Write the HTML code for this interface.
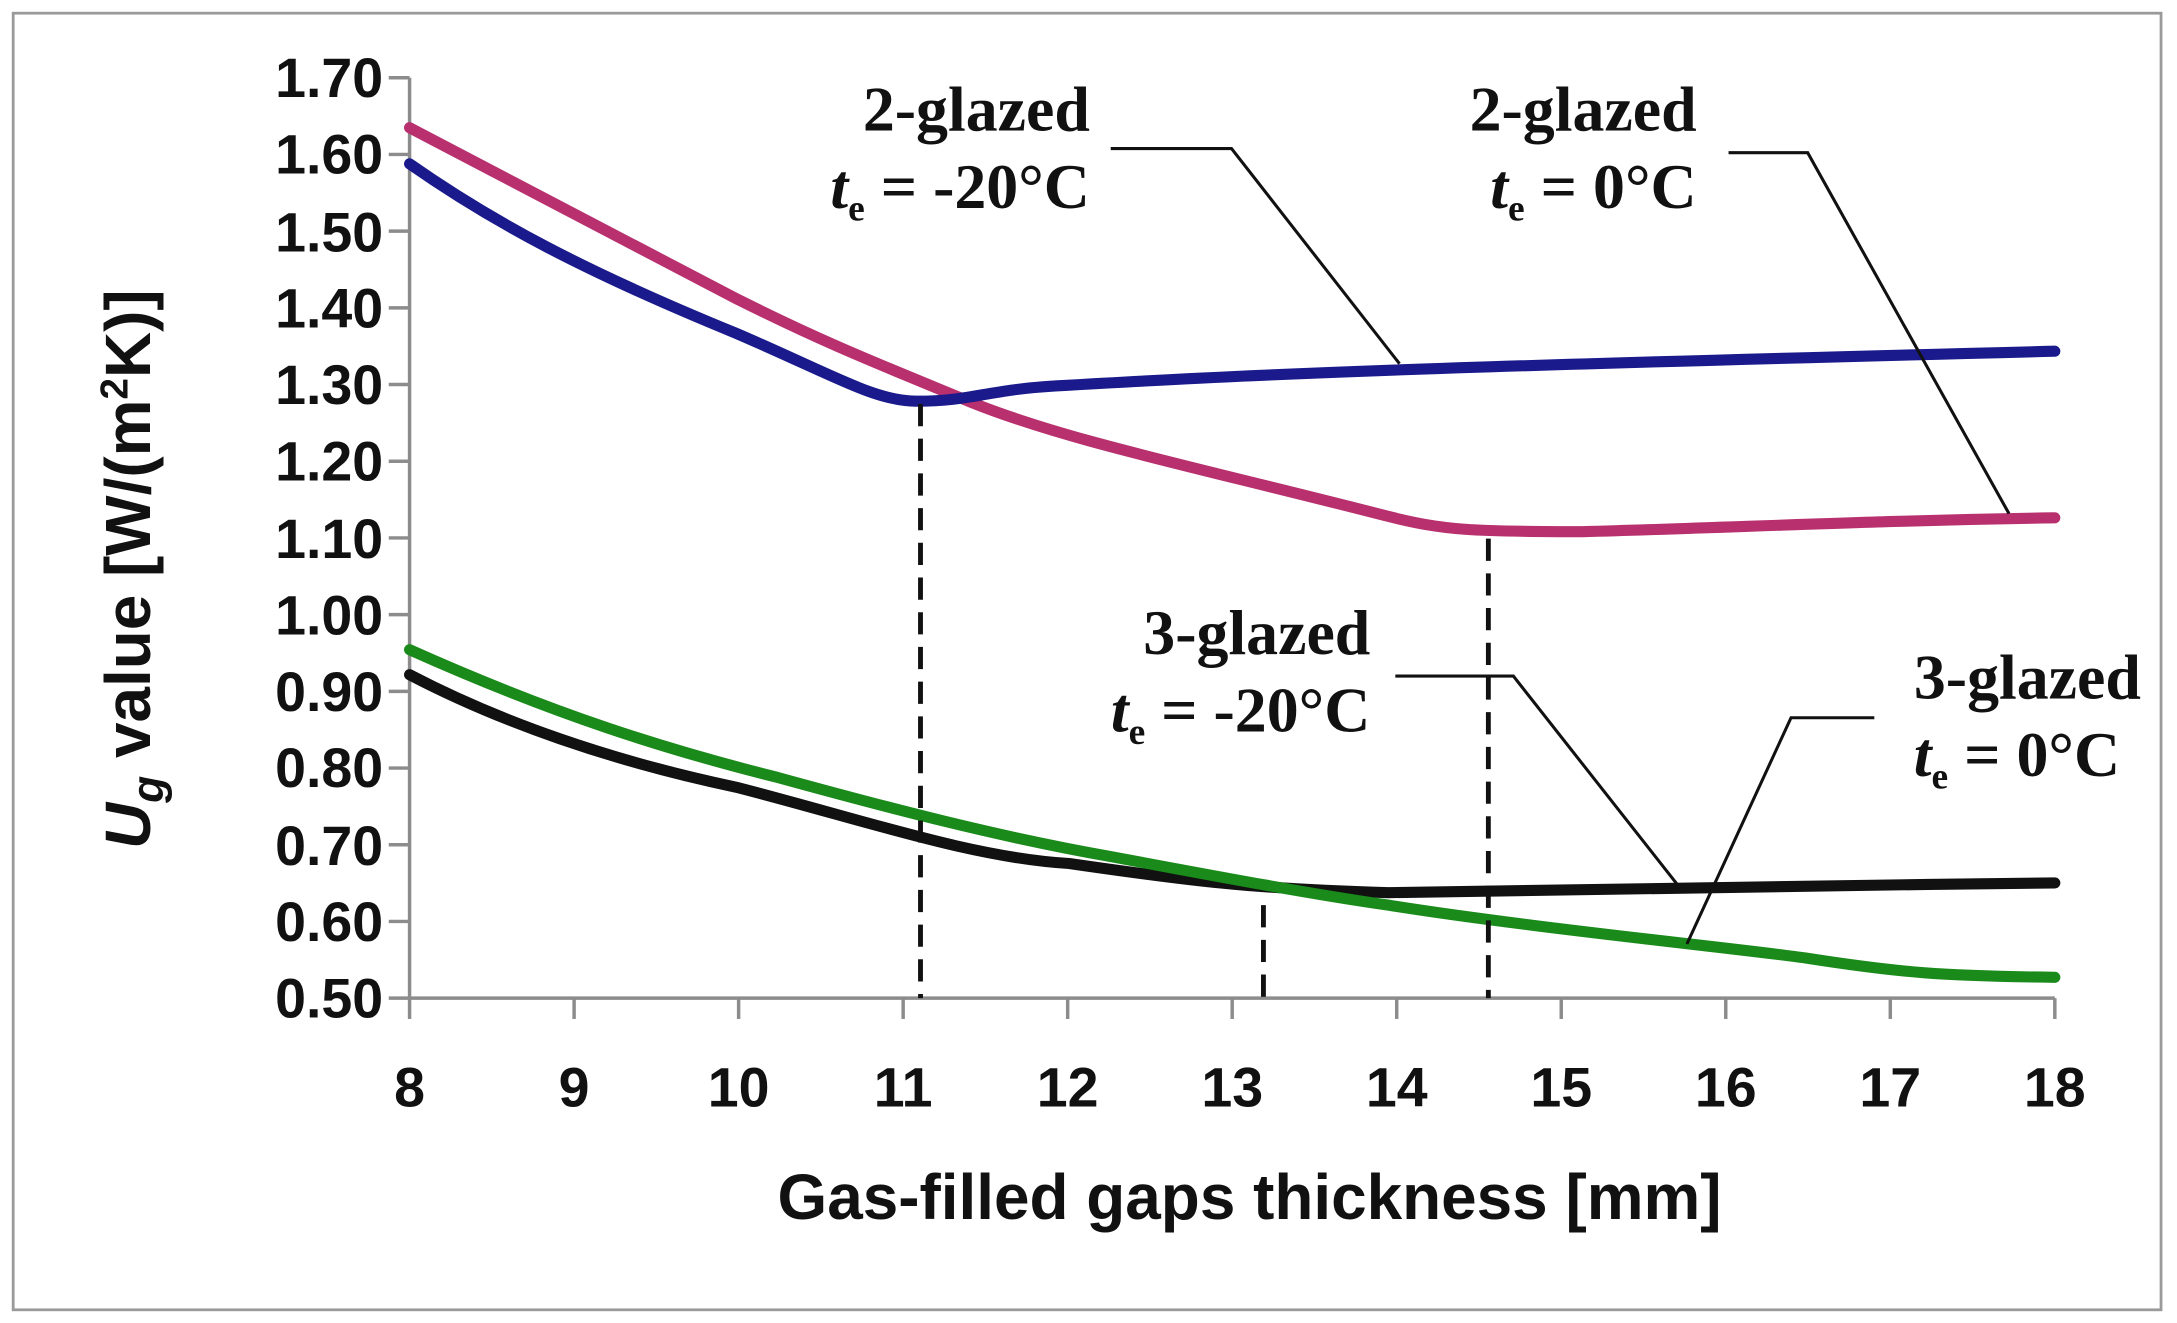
<!DOCTYPE html>
<html><head><style>html,body{margin:0;padding:0;background:#fff}svg{display:block}</style></head>
<body>
<svg width="2177" height="1323" viewBox="0 0 1568 953" preserveAspectRatio="none" xmlns="http://www.w3.org/2000/svg">
<rect x="0" y="0" width="1568" height="953" fill="#fff"/>
<rect x="9.5" y="9.5" width="1547" height="934" fill="none" stroke="#9a9a9a" stroke-width="2"/>
<g stroke="#8c8c8c" stroke-width="2.5">
<line x1="295" y1="56" x2="295" y2="719"/>
<line x1="280" y1="719" x2="1480" y2="719"/>
<line x1="280" y1="56" x2="295" y2="56"/><line x1="280" y1="111.25" x2="295" y2="111.25"/><line x1="280" y1="166.5" x2="295" y2="166.5"/><line x1="280" y1="221.75" x2="295" y2="221.75"/><line x1="280" y1="277" x2="295" y2="277"/><line x1="280" y1="332.25" x2="295" y2="332.25"/><line x1="280" y1="387.5" x2="295" y2="387.5"/><line x1="280" y1="442.75" x2="295" y2="442.75"/><line x1="280" y1="498" x2="295" y2="498"/><line x1="280" y1="553.25" x2="295" y2="553.25"/><line x1="280" y1="608.5" x2="295" y2="608.5"/><line x1="280" y1="663.75" x2="295" y2="663.75"/>
<line x1="295" y1="719" x2="295" y2="734"/><line x1="413.5" y1="719" x2="413.5" y2="734"/><line x1="532" y1="719" x2="532" y2="734"/><line x1="650.5" y1="719" x2="650.5" y2="734"/><line x1="769" y1="719" x2="769" y2="734"/><line x1="887.5" y1="719" x2="887.5" y2="734"/><line x1="1006" y1="719" x2="1006" y2="734"/><line x1="1124.5" y1="719" x2="1124.5" y2="734"/><line x1="1243" y1="719" x2="1243" y2="734"/><line x1="1361.5" y1="719" x2="1361.5" y2="734"/><line x1="1480" y1="719" x2="1480" y2="734"/>
</g>
<g font-family="'Liberation Sans',sans-serif" font-weight="bold" font-size="40" fill="#111" text-anchor="end">
<text x="276" y="70">1.70</text><text x="276" y="125">1.60</text><text x="276" y="181">1.50</text><text x="276" y="236">1.40</text><text x="276" y="291">1.30</text><text x="276" y="346">1.20</text><text x="276" y="402">1.10</text><text x="276" y="457">1.00</text><text x="276" y="512">0.90</text><text x="276" y="567">0.80</text><text x="276" y="623">0.70</text><text x="276" y="678">0.60</text><text x="276" y="733">0.50</text>
</g>
<g font-family="'Liberation Sans',sans-serif" font-weight="bold" font-size="40" fill="#111" text-anchor="middle">
<text x="295" y="797">8</text><text x="413.5" y="797">9</text><text x="532" y="797">10</text><text x="650.5" y="797">11</text><text x="769" y="797">12</text><text x="887.5" y="797">13</text><text x="1006" y="797">14</text><text x="1124.5" y="797">15</text><text x="1243" y="797">16</text><text x="1361.5" y="797">17</text><text x="1480" y="797">18</text>
<text x="900" y="878" font-size="46">Gas-filled gaps thickness [mm]</text>
<text transform="translate(108,410) rotate(-90)" font-size="46"><tspan font-style="italic">U</tspan><tspan font-style="italic" font-size="32" dy="9">g</tspan><tspan dy="-9"> value [W/(m</tspan><tspan font-size="28" dy="-16">2</tspan><tspan dy="16">K)]</tspan></text>
</g>
<g fill="none" stroke-linecap="round" stroke-linejoin="round" stroke-width="8">
<path stroke="#b8306e" d="M295,92 C360,126 420,158 530,215 C600,250 640,265 700,290 C770,318 860,336 1000,372 C1040,382 1060,383 1140,383 C1250,380 1350,375 1480,373"/>
<path stroke="#1a1a8c" d="M295,118 C355,160 420,195 530,240 C600,270 630,289 660,289 C700,289 710,281 760,278 C900,270 1000,265 1480,253"/>
<path stroke="#111" d="M295,486 C360,520 440,548 530,567 C620,590 700,618 770,622 C860,635 900,640 1000,643 C1100,641 1300,638 1480,636"/>
<path stroke="#1a8a1a" d="M295,468 C400,515 480,540 560,560 C640,582 720,603 800,617 C880,632 950,645 1000,652 C1100,668 1250,683 1300,690 C1370,701 1400,703 1480,704"/>
</g>
<g stroke="#111" stroke-width="3.5" stroke-dasharray="16,9">
<line x1="663" y1="291" x2="663" y2="719"/>
<line x1="910" y1="652" x2="910" y2="719"/>
<line x1="1072" y1="388" x2="1072" y2="719"/>
</g>
<g stroke="#111" stroke-width="2.2" fill="none">
<polyline points="800,107 887,107 1008,262"/>
<polyline points="1245,110 1302,110 1447,370"/>
<polyline points="1005,487 1090,487 1208,637"/>
<polyline points="1350,517 1290,517 1215,680"/>
</g>
<g font-family="'Liberation Serif',serif" font-weight="bold" font-size="46" fill="#111" text-anchor="end">
<text x="785" y="94">2-glazed</text>
<text x="785" y="150"><tspan font-style="italic">t</tspan><tspan font-size="27" dy="9">e</tspan><tspan dy="-9"> = -20°C</tspan></text>
<text x="1222" y="94">2-glazed</text>
<text x="1222" y="150"><tspan font-style="italic">t</tspan><tspan font-size="27" dy="9">e</tspan><tspan dy="-9"> = 0°C</tspan></text>
<text x="987" y="471">3-glazed</text>
<text x="987" y="527"><tspan font-style="italic">t</tspan><tspan font-size="27" dy="9">e</tspan><tspan dy="-9"> = -20°C</tspan></text>
<text x="1542" y="503">3-glazed</text>
<text x="1527" y="559"><tspan font-style="italic">t</tspan><tspan font-size="27" dy="9">e</tspan><tspan dy="-9"> = 0°C</tspan></text>
</g>
</svg>
</body></html>
